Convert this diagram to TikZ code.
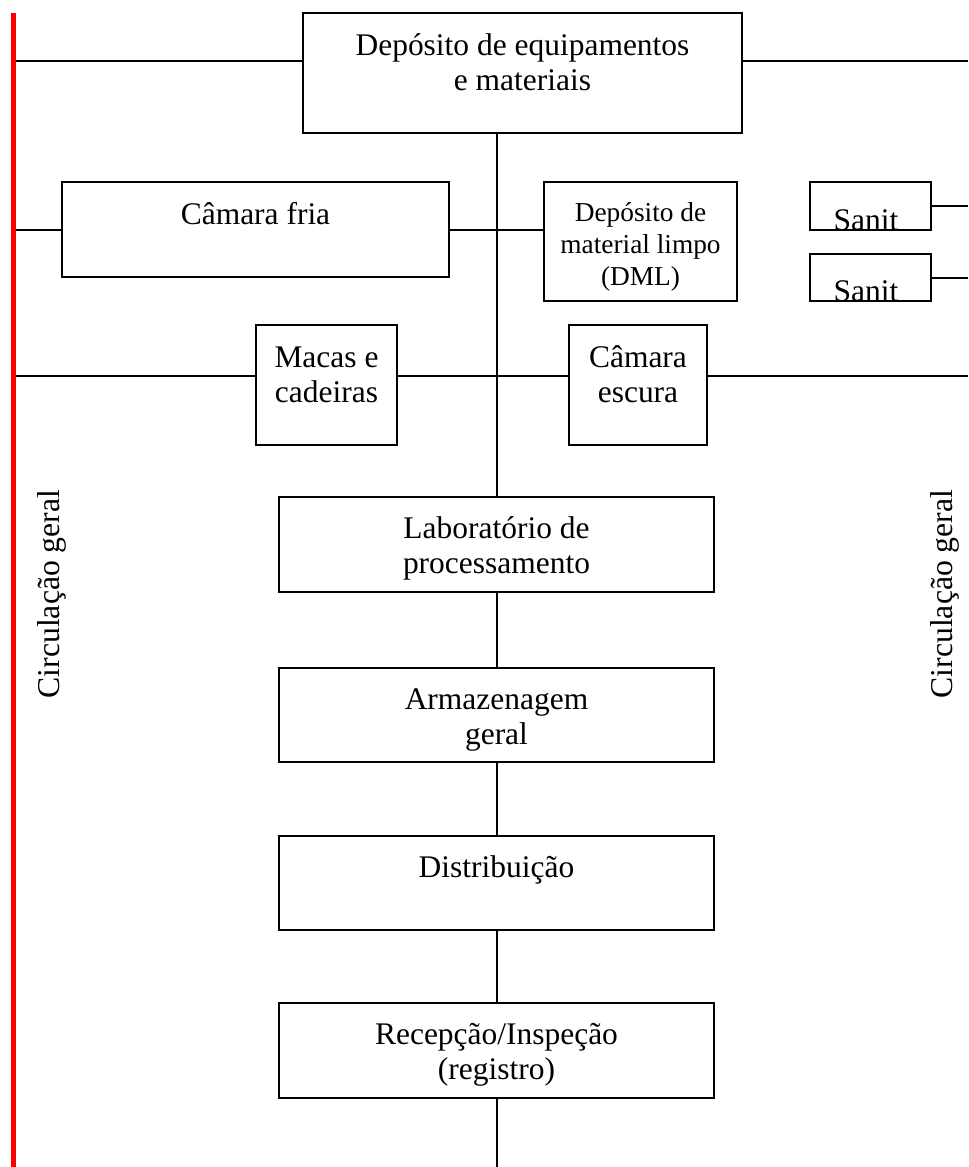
\documentclass[tikz,border=0pt]{standalone}
\usepackage{fontspec}
\setmainfont{Liberation Serif}
\usetikzlibrary{fit}
\begin{document}
\begin{tikzpicture}[x=0.75pt,y=-0.75pt,
  wire/.style={draw=black,line width=1.5pt},
  room/.style={draw=black,line width=1.5pt,fill=white,inner sep=0pt,outer sep=0pt},
  roomtext/.style={anchor=north,inner sep=0pt,align=center,
    font=\fontsize{23.6pt}{26.25pt}\selectfont},
  smalltext/.style={anchor=north,inner sep=0pt,align=center,
    font=\fontsize{20.5pt}{24pt}\selectfont},
  cuttext/.style={anchor=base,inner sep=0pt,
    font=\fontsize{23.6pt}{26.25pt}\selectfont},
  corridor/.style={draw=red,line width=3.75pt},
  corridortext/.style={rotate=90,inner sep=0pt,
    font=\fontsize{23.8pt}{26.25pt}\selectfont}]
\useasboundingbox (0,0) rectangle (968,1167);

% corridor and spine end points
\coordinate (redTop) at (13.5,13);
\coordinate (redBot) at (13.5,1167);
\coordinate (spineTop) at (497,133);
\coordinate (spineBot) at (497,1167);
\coordinate (rowA) at (13.5,61);
\coordinate (rowAe) at (968,61);
\coordinate (rowC) at (13.5,376);
\coordinate (rowCe) at (968,376);
\coordinate (edgeS1) at (968,206);
\coordinate (edgeS2) at (968,277.5);

% central spine (boxes are drawn over it)
\draw[wire] (spineTop) -- (spineBot);

% rooms
\node[room,fit={(303,13)(742,133)}] (dep) {};
\node[room,fit={(62,182)(449,277)}] (fria) {};
\node[room,fit={(544,182)(737,301)}] (dml) {};
\node[room,fit={(810,182)(931,230)}] (san1) {};
\node[room,fit={(810,254)(931,301)}] (san2) {};
\node[room,fit={(256,325)(397,445)}] (macas) {};
\node[room,fit={(569,325)(707,445)}] (escura) {};
\node[room,fit={(279,497)(714,592)}] (lab) {};
\node[room,fit={(279,668)(714,762)}] (arm) {};
\node[room,fit={(279,836)(714,930)}] (dist) {};
\node[room,fit={(279,1003)(714,1098)}] (rec) {};

% room names
\node[roomtext] (depT) at (522.5,30.5) {\strut Depósito de equipamentos\\e materiais};
\node[roomtext] (friaT) at (255.5,199.5) {\strut Câmara fria};
\node[smalltext] (dmlT) at (640.5,198.6) {\strut Depósito de\\material limpo\\(DML)};
\node[roomtext] (macasT) at (326.5,342.5) {\strut Macas e\\cadeiras};
\node[roomtext] (escuraT) at (638,342.5) {\strut Câmara\\escura};
\node[roomtext] (labT) at (496.5,513.5) {\strut Laboratório de\\processamento};
\node[roomtext] (armT) at (496.5,684.5) {\strut Armazenagem\\geral};
\node[roomtext] (distT) at (496.5,852.5) {\strut Distribuição};
\node[roomtext] (recT) at (496.5,1019.5) {\strut Recepção/Inspeção\\(registro)};

% sanitary rooms: name cut by the lower edge of the box
\begin{scope}
  \clip ([shift={(1,1)}]san1.north west) rectangle ([shift={(-1,-1)}]san1.south east);
  \node[cuttext] (san1T) at (866,230) {Sanit};
\end{scope}
\begin{scope}
  \clip ([shift={(1,1)}]san2.north west) rectangle ([shift={(-1,-1)}]san2.south east);
  \node[cuttext] (san2T) at (866,301) {Sanit};
\end{scope}

% connections
\draw[wire] (rowA) -- (rowA -| dep.west);
\draw[wire] (rowA -| dep.east) -- (rowAe);
\draw[wire] (redTop |- fria.west) -- (fria.west);
\draw[wire] (fria.east) -- (fria.east -| dml.west);
\draw[wire] (san1.east) -- (edgeS1);
\draw[wire] (san2.east) -- (edgeS2);
\draw[wire] (rowC) -- (rowC -| macas.west);
\draw[wire] (rowC -| macas.east) -- (rowC -| escura.west);
\draw[wire] (rowC -| escura.east) -- (rowCe);

% general circulation
\draw[corridor] (redTop) -- (redBot);
\node[corridortext] (circL) at (52,594) {Circulação geral};
\node[corridortext] (circR) at (945,594) {Circulação geral};
\end{tikzpicture}
\end{document}
